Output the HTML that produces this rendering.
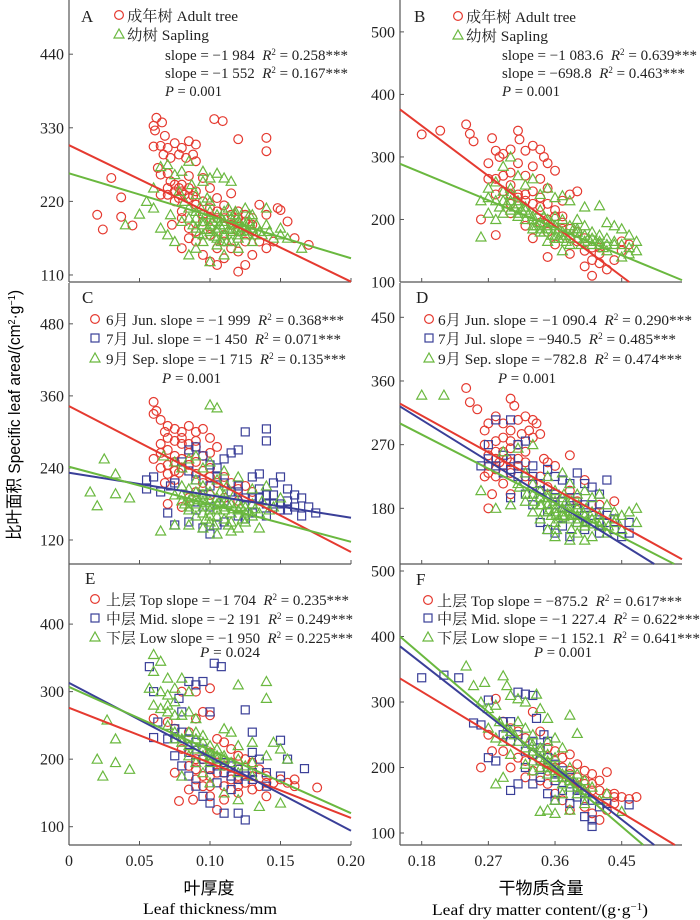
<!DOCTYPE html>
<html><head><meta charset="utf-8">
<style>
html,body{margin:0;padding:0;background:#fff;}
svg{display:block;font-family:"Liberation Serif","Noto Serif CJK SC","Noto Sans CJK SC",serif;}
</style></head>
<body>
<svg id="chart" width="700" height="920" viewBox="0 0 700 920" xmlns="http://www.w3.org/2000/svg">
<text transform="translate(20,415) rotate(-90)" text-anchor="middle" font-size="17" textLength="250" lengthAdjust="spacingAndGlyphs" style="font-family:'Liberation Sans','Noto Sans CJK SC',sans-serif">比叶面积 Specific leaf area/(cm<tspan baseline-shift="super" font-size="10">2</tspan>·g<tspan baseline-shift="super" font-size="10">−1</tspan>)</text>
<text x="209" y="894" text-anchor="middle" font-size="17" style="font-family:'Noto Sans CJK SC',sans-serif">叶厚度</text>
<text x="210" y="914" text-anchor="middle" font-size="16" textLength="134" lengthAdjust="spacingAndGlyphs">Leaf thickness/mm</text>
<text x="541" y="894" text-anchor="middle" font-size="17" style="font-family:'Noto Sans CJK SC',sans-serif">干物质含量</text>
<text x="540" y="915" text-anchor="middle" font-size="16" textLength="216" lengthAdjust="spacingAndGlyphs">Leaf dry matter content/(g·g<tspan baseline-shift="super" font-size="10">−1</tspan>)</text>
</svg>
<script>
// ---- tick labels ----
const ltTicks = [0, 0.05, 0.10, 0.15, 0.20];
const ltTickLabels = ["0", "0.05", "0.10", "0.15", "0.20"];
const ldTicks = [0.18, 0.27, 0.36, 0.45];
const ldTickLabels = ["0.18", "0.27", "0.36", "0.45"];
const yTicksA = [110, 220, 330, 440];
const yTicksB = [100, 200, 300, 400, 500];
const yTicksC = [120, 240, 360, 480];
const yTicksD = [180, 270, 360, 450];
const yTicksE = [100, 200, 300, 400];
const yTicksF = [100, 200, 300, 400, 500];

// ---- series (x, y pairs) ----
const adultA = [[0.02,200],[0.024,178],[0.03,255],[0.037,226],[0.037,197],[0.045,184],[0.062,345],[0.06,333],[0.061,326],[0.066,338],[0.068,318],[0.06,302],[0.065,303],[0.07,300],[0.075,307],[0.08,300],[0.085,310],[0.09,305],[0.103,343],[0.109,340],[0.12,313],[0.14,315],[0.14,295],[0.063,270],[0.07,240],[0.075,245],[0.08,235],[0.085,258],[0.09,280],[0.095,255],[0.1,240],[0.105,225],[0.11,214],[0.115,232],[0.12,205],[0.125,200],[0.13,195],[0.135,215],[0.14,200],[0.148,210],[0.15,207],[0.155,190],[0.16,165],[0.17,155],[0.073,185],[0.08,150],[0.085,165],[0.09,175],[0.095,140],[0.1,130],[0.105,125],[0.11,135],[0.12,115],[0.125,125],[0.13,140],[0.14,150],[0.145,160],[0.1,180],[0.105,195],[0.11,170],[0.115,185],[0.12,175],[0.095,200],[0.09,215],[0.085,225],[0.13,175],[0.135,160],[0.08,205],[0.075,220],[0.065,230],[0.072,250],[0.078,240],[0.082,230],[0.07,230],[0.075,235],[0.08,245],[0.085,240],[0.09,235],[0.078,225],[0.088,228],[0.095,220],[0.1,210],[0.105,205],[0.11,195],[0.115,200],[0.12,195],[0.125,190],[0.13,185],[0.095,190],[0.1,170],[0.11,160],[0.115,150],[0.12,145],[0.125,160],[0.105,150],[0.09,160],[0.085,180],[0.08,195],[0.067,290],[0.072,285],[0.078,290],[0.083,285],[0.088,290],[0.065,260],[0.07,262]];
const saplingA = [[0.04,185],[0.05,201],[0.055,220],[0.06,240],[0.065,272],[0.07,275],[0.075,260],[0.08,265],[0.085,280],[0.095,265],[0.1,255],[0.105,262],[0.11,255],[0.115,250],[0.125,210],[0.14,210],[0.13,200],[0.15,170],[0.155,165],[0.165,150],[0.13,160],[0.12,150],[0.11,140],[0.1,130],[0.085,140],[0.075,160],[0.07,170],[0.072,200],[0.08,190],[0.09,195],[0.095,185],[0.1,175],[0.105,180],[0.11,190],[0.115,175],[0.12,185],[0.085,210],[0.09,230],[0.1,220],[0.105,200],[0.11,205],[0.12,170],[0.125,180],[0.135,175],[0.14,185],[0.095,160],[0.09,150],[0.105,155],[0.115,160],[0.06,210],[0.065,180],[0.09,180],[0.095,190],[0.1,185],[0.105,175],[0.11,185],[0.115,195],[0.12,190],[0.125,185],[0.13,180],[0.1,195],[0.095,170],[0.105,165],[0.11,170],[0.115,180],[0.12,165],[0.125,170],[0.09,205],[0.1,205],[0.108,195],[0.118,200],[0.128,190],[0.132,170],[0.098,178],[0.112,160],[0.122,175],[0.085,195],[0.088,185],[0.092,172],[0.097,200],[0.102,190],[0.107,185],[0.113,178],[0.117,188],[0.123,182],[0.127,176],[0.133,185],[0.137,170],[0.142,175],[0.103,168],[0.108,160],[0.093,212],[0.098,225],[0.113,210],[0.118,205],[0.128,200],[0.082,220],[0.078,235],[0.087,245],[0.095,250],[0.145,165],[0.15,180]];
const adultB = [[0.18,336],[0.205,342],[0.24,352],[0.245,337],[0.25,325],[0.27,290],[0.275,330],[0.28,310],[0.285,300],[0.29,305],[0.3,312],[0.31,342],[0.312,328],[0.32,310],[0.33,318],[0.34,312],[0.345,300],[0.35,290],[0.36,278],[0.33,285],[0.31,290],[0.29,270],[0.27,265],[0.26,200],[0.28,240],[0.3,255],[0.31,240],[0.32,230],[0.33,245],[0.34,235],[0.35,225],[0.36,215],[0.37,205],[0.38,240],[0.39,245],[0.28,175],[0.3,210],[0.32,190],[0.33,170],[0.34,195],[0.35,180],[0.36,160],[0.37,185],[0.38,170],[0.39,165],[0.4,150],[0.41,135],[0.42,130],[0.43,120],[0.41,110],[0.4,125],[0.44,135],[0.45,150],[0.45,165],[0.46,160],[0.35,140],[0.38,145],[0.42,155],[0.37,230],[0.35,250],[0.3,225],[0.29,245],[0.3,240],[0.31,235],[0.32,240],[0.33,225],[0.34,220],[0.35,200],[0.36,205],[0.37,195],[0.38,185],[0.39,180],[0.4,170],[0.41,155],[0.42,145],[0.28,265],[0.3,275],[0.32,270],[0.34,265]];
const saplingB = [[0.26,172],[0.26,230],[0.27,250],[0.27,210],[0.28,260],[0.29,285],[0.3,300],[0.31,270],[0.32,255],[0.33,265],[0.34,240],[0.35,250],[0.36,235],[0.37,238],[0.38,230],[0.4,220],[0.42,222],[0.43,195],[0.44,190],[0.45,185],[0.46,175],[0.47,165],[0.47,150],[0.46,145],[0.45,140],[0.43,150],[0.42,160],[0.41,170],[0.4,190],[0.39,180],[0.38,160],[0.37,150],[0.36,175],[0.35,190],[0.34,180],[0.33,200],[0.32,215],[0.31,225],[0.3,230],[0.29,210],[0.28,200],[0.33,185],[0.35,165],[0.37,200],[0.39,200],[0.36,205],[0.34,215],[0.31,205],[0.4,165],[0.44,160],[0.3,215],[0.31,210],[0.32,200],[0.33,205],[0.34,195],[0.35,185],[0.36,190],[0.37,180],[0.38,175],[0.39,170],[0.4,165],[0.41,160],[0.42,165],[0.43,160],[0.32,220],[0.335,190],[0.345,205],[0.355,175],[0.365,170],[0.375,165],[0.385,185],[0.395,160],[0.31,230],[0.3,240],[0.29,230],[0.28,230],[0.285,220],[0.295,225],[0.305,220],[0.315,215],[0.325,210],[0.33,190],[0.34,185],[0.345,180],[0.35,200],[0.355,195],[0.36,170],[0.365,185],[0.37,170],[0.375,175],[0.38,190],[0.39,185],[0.4,175],[0.405,170],[0.41,180],[0.415,165],[0.42,175],[0.425,155],[0.43,170],[0.44,165],[0.45,160],[0.46,155],[0.3,250],[0.29,245],[0.27,235]];
const junC = [[0.06,350],[0.062,335],[0.065,320],[0.06,330],[0.068,300],[0.07,310],[0.075,305],[0.08,300],[0.085,310],[0.09,300],[0.095,305],[0.1,290],[0.105,275],[0.065,280],[0.07,270],[0.075,260],[0.08,280],[0.085,265],[0.09,275],[0.095,260],[0.1,265],[0.06,255],[0.065,240],[0.07,245],[0.075,235],[0.08,240],[0.085,245],[0.09,230],[0.095,235],[0.1,225],[0.105,215],[0.11,225],[0.115,215],[0.12,205],[0.125,210],[0.13,200],[0.07,180],[0.08,175],[0.085,190],[0.09,200],[0.1,195],[0.11,190],[0.12,185],[0.095,215],[0.075,220],[0.068,215],[0.07,290],[0.075,285],[0.08,290],[0.085,280],[0.09,285],[0.065,265],[0.075,250],[0.08,255],[0.09,250],[0.1,240],[0.07,230],[0.078,232]];
const julC = [[0.055,205],[0.055,220],[0.06,225],[0.065,200],[0.07,165],[0.072,210],[0.075,215],[0.08,250],[0.085,270],[0.09,275],[0.095,260],[0.1,245],[0.105,240],[0.11,255],[0.115,265],[0.12,270],[0.125,300],[0.13,225],[0.135,230],[0.14,305],[0.14,285],[0.145,215],[0.15,225],[0.155,205],[0.16,195],[0.165,190],[0.17,175],[0.175,165],[0.165,160],[0.155,170],[0.15,180],[0.14,180],[0.13,190],[0.12,200],[0.11,185],[0.1,175],[0.09,170],[0.085,150],[0.095,140],[0.1,130],[0.105,145],[0.11,150],[0.12,160],[0.125,155],[0.13,165],[0.14,160],[0.075,145],[0.145,195],[0.135,205],[0.115,200],[0.12,210],[0.125,190],[0.13,180],[0.135,190],[0.14,195],[0.145,180],[0.15,170],[0.155,185],[0.16,175],[0.095,195],[0.1,210],[0.105,225],[0.11,215],[0.09,220],[0.085,235]];
const sepC = [[0.015,200],[0.02,177],[0.025,255],[0.033,230],[0.033,197],[0.043,190],[0.067,260],[0.075,250],[0.08,240],[0.085,255],[0.09,260],[0.1,345],[0.105,340],[0.095,240],[0.1,250],[0.11,235],[0.12,225],[0.13,205],[0.14,210],[0.15,190],[0.145,175],[0.135,165],[0.125,150],[0.115,135],[0.105,130],[0.095,140],[0.085,145],[0.075,145],[0.065,135],[0.075,195],[0.08,185],[0.085,175],[0.09,200],[0.095,185],[0.1,170],[0.105,190],[0.11,175],[0.115,165],[0.12,180],[0.125,175],[0.13,160],[0.1,160],[0.09,160],[0.11,155],[0.095,210],[0.105,220],[0.085,205],[0.12,140],[0.135,140],[0.08,195],[0.085,185],[0.09,180],[0.095,175],[0.1,185],[0.105,180],[0.11,170],[0.115,180],[0.12,170],[0.09,190],[0.095,195],[0.1,200],[0.105,170],[0.11,195],[0.085,170],[0.095,165],[0.1,150],[0.105,160],[0.115,150],[0.125,165],[0.08,210],[0.09,220],[0.13,180],[0.092,187],[0.097,182],[0.102,178],[0.107,185],[0.112,182],[0.117,172],[0.122,176],[0.127,168],[0.132,172],[0.087,192],[0.082,180],[0.107,200],[0.112,210],[0.117,195],[0.097,155],[0.103,145],[0.113,145],[0.123,155],[0.137,185],[0.142,170]];
const junD = [[0.24,350],[0.245,330],[0.255,320],[0.265,290],[0.27,300],[0.28,310],[0.29,300],[0.3,335],[0.305,325],[0.31,305],[0.32,310],[0.33,305],[0.335,300],[0.34,285],[0.3,290],[0.29,280],[0.28,275],[0.265,270],[0.27,255],[0.28,250],[0.29,260],[0.3,265],[0.31,270],[0.32,260],[0.33,280],[0.345,250],[0.35,245],[0.36,240],[0.38,255],[0.27,240],[0.28,225],[0.29,215],[0.3,230],[0.31,240],[0.32,225],[0.33,215],[0.265,225],[0.275,200],[0.27,180],[0.3,200],[0.34,225],[0.35,210],[0.36,200],[0.4,220],[0.42,185],[0.44,190],[0.38,205],[0.39,190],[0.28,260],[0.285,245],[0.29,240],[0.295,250],[0.3,245],[0.31,250],[0.32,245],[0.3,275],[0.315,285],[0.325,290],[0.27,230],[0.28,235]];
const julD = [[0.26,240],[0.27,250],[0.27,270],[0.28,305],[0.3,305],[0.3,250],[0.31,270],[0.32,275],[0.33,240],[0.31,225],[0.3,195],[0.32,200],[0.34,215],[0.35,235],[0.36,225],[0.37,220],[0.38,215],[0.39,230],[0.4,215],[0.41,210],[0.42,200],[0.43,220],[0.39,195],[0.38,180],[0.37,170],[0.36,185],[0.35,175],[0.34,160],[0.35,150],[0.36,145],[0.37,155],[0.38,140],[0.4,150],[0.42,160],[0.44,150],[0.45,140],[0.46,145],[0.46,160],[0.43,170],[0.41,185],[0.4,170],[0.33,185],[0.34,195],[0.36,200],[0.39,160],[0.42,145],[0.29,230],[0.3,235],[0.31,240],[0.32,230],[0.33,225],[0.34,205],[0.35,200],[0.36,195],[0.37,190],[0.38,195],[0.39,180],[0.4,185],[0.41,170],[0.42,175],[0.43,160],[0.44,165],[0.28,240],[0.29,255]];
const sepD = [[0.18,340],[0.21,340],[0.26,205],[0.28,180],[0.29,260],[0.31,265],[0.33,270],[0.31,215],[0.3,185],[0.32,230],[0.33,215],[0.34,205],[0.35,225],[0.36,205],[0.37,230],[0.38,215],[0.39,200],[0.4,205],[0.41,195],[0.42,200],[0.43,185],[0.44,175],[0.45,170],[0.46,175],[0.47,180],[0.47,160],[0.45,150],[0.43,145],[0.41,140],[0.4,135],[0.38,135],[0.36,140],[0.35,150],[0.34,165],[0.33,175],[0.34,185],[0.35,195],[0.36,175],[0.37,170],[0.38,180],[0.39,170],[0.4,160],[0.41,165],[0.42,155],[0.44,160],[0.37,195],[0.36,160],[0.39,145],[0.32,190],[0.34,195],[0.35,185],[0.36,190],[0.37,180],[0.38,175],[0.39,180],[0.4,170],[0.41,175],[0.42,170],[0.35,200],[0.36,180],[0.37,175],[0.38,165],[0.39,160],[0.4,155],[0.33,200],[0.345,175],[0.355,170],[0.365,165],[0.375,190],[0.385,170],[0.352,178],[0.362,172],[0.372,168],[0.382,172],[0.392,165],[0.402,162],[0.412,158],[0.422,162],[0.432,155],[0.442,165],[0.342,185],[0.332,190],[0.322,200],[0.312,210],[0.372,200],[0.382,190],[0.392,185],[0.402,180],[0.362,150],[0.382,150]];
const topE = [[0.06,260],[0.07,255],[0.075,245],[0.08,300],[0.09,300],[0.1,305],[0.1,265],[0.095,270],[0.09,260],[0.085,240],[0.08,215],[0.075,180],[0.078,138],[0.085,155],[0.088,140],[0.09,185],[0.095,200],[0.1,210],[0.105,230],[0.11,225],[0.115,215],[0.12,205],[0.125,200],[0.13,195],[0.135,185],[0.14,175],[0.145,165],[0.15,170],[0.155,165],[0.16,170],[0.16,160],[0.176,158],[0.14,145],[0.13,155],[0.12,160],[0.11,140],[0.105,125],[0.1,145],[0.095,160],[0.1,175],[0.11,180],[0.12,185],[0.105,195],[0.115,170],[0.125,165],[0.135,160],[0.09,200],[0.085,190],[0.1,185],[0.105,180],[0.11,190],[0.115,195],[0.12,175],[0.13,175],[0.14,165],[0.095,175],[0.09,170],[0.1,160],[0.11,160],[0.12,150]];
const midE = [[0.057,337],[0.06,300],[0.06,232],[0.063,255],[0.07,230],[0.075,245],[0.078,290],[0.08,270],[0.085,315],[0.09,310],[0.095,315],[0.1,270],[0.103,342],[0.108,337],[0.125,273],[0.13,240],[0.13,210],[0.135,200],[0.14,180],[0.15,228],[0.155,200],[0.167,186],[0.15,175],[0.14,160],[0.13,170],[0.12,120],[0.125,110],[0.11,120],[0.1,135],[0.095,145],[0.09,160],[0.085,175],[0.08,190],[0.085,210],[0.09,225],[0.095,215],[0.1,200],[0.105,190],[0.11,180],[0.115,175],[0.12,185],[0.105,165],[0.115,155],[0.075,205],[0.09,195],[0.095,200],[0.1,185],[0.11,195],[0.115,190],[0.12,170],[0.125,175],[0.13,180],[0.085,230],[0.08,240],[0.075,230]];
const lowE = [[0.02,200],[0.024,175],[0.027,258],[0.033,230],[0.033,195],[0.043,185],[0.057,305],[0.06,330],[0.06,355],[0.065,345],[0.07,320],[0.065,300],[0.07,295],[0.075,305],[0.08,320],[0.085,300],[0.06,280],[0.065,275],[0.07,280],[0.075,285],[0.08,265],[0.085,270],[0.09,260],[0.07,250],[0.075,240],[0.08,230],[0.09,240],[0.095,235],[0.1,220],[0.11,245],[0.115,240],[0.12,310],[0.14,315],[0.14,290],[0.12,220],[0.13,225],[0.14,205],[0.145,225],[0.15,215],[0.155,200],[0.15,135],[0.135,130],[0.12,140],[0.11,150],[0.1,165],[0.095,180],[0.09,195],[0.085,205],[0.08,175],[0.1,200],[0.105,205],[0.11,190],[0.12,180],[0.13,175],[0.09,215],[0.095,205],[0.1,195],[0.105,200],[0.11,205],[0.1,210],[0.095,225],[0.085,220],[0.08,225],[0.075,230],[0.085,240],[0.09,230],[0.095,215],[0.1,205],[0.105,215],[0.11,200],[0.115,195],[0.12,200],[0.125,190],[0.13,195],[0.07,270],[0.075,265]];
const topF = [[0.26,200],[0.27,250],[0.275,225],[0.28,305],[0.29,270],[0.3,260],[0.31,255],[0.32,245],[0.33,285],[0.34,255],[0.35,230],[0.36,225],[0.37,215],[0.38,220],[0.39,205],[0.4,195],[0.41,190],[0.42,180],[0.43,193],[0.44,160],[0.45,155],[0.46,152],[0.47,155],[0.44,145],[0.43,135],[0.42,120],[0.41,130],[0.4,140],[0.38,135],[0.37,150],[0.36,160],[0.35,175],[0.34,180],[0.33,195],[0.32,210],[0.31,215],[0.3,200],[0.29,225],[0.35,195],[0.37,185],[0.39,170],[0.41,165],[0.38,190],[0.36,200],[0.34,210],[0.32,185],[0.4,175],[0.36,210],[0.37,200],[0.38,195],[0.39,185],[0.4,180],[0.41,175],[0.42,165],[0.43,160],[0.44,155],[0.35,215]];
const midF = [[0.18,337],[0.21,341],[0.23,337],[0.25,268],[0.26,265],[0.27,303],[0.27,215],[0.28,210],[0.29,250],[0.3,270],[0.31,315],[0.32,312],[0.33,310],[0.335,275],[0.345,250],[0.34,230],[0.33,240],[0.32,200],[0.31,175],[0.3,165],[0.33,175],[0.35,215],[0.36,205],[0.37,195],[0.38,185],[0.39,170],[0.4,160],[0.41,150],[0.42,140],[0.41,120],[0.41,110],[0.4,125],[0.43,145],[0.46,143],[0.38,145],[0.36,150],[0.35,160],[0.34,185],[0.36,180],[0.37,165],[0.39,155],[0.32,225],[0.3,240],[0.33,220],[0.34,210],[0.35,200],[0.36,190],[0.37,185],[0.38,175],[0.39,165],[0.4,150],[0.35,240],[0.31,250],[0.29,270]];
const lowF = [[0.24,355],[0.25,325],[0.265,330],[0.26,300],[0.27,290],[0.28,295],[0.29,340],[0.295,325],[0.3,310],[0.31,305],[0.32,300],[0.335,312],[0.34,290],[0.35,275],[0.38,280],[0.39,252],[0.37,230],[0.36,245],[0.35,240],[0.34,230],[0.33,250],[0.32,260],[0.31,270],[0.3,255],[0.29,240],[0.28,245],[0.27,260],[0.3,220],[0.29,185],[0.28,175],[0.32,205],[0.33,195],[0.34,200],[0.35,210],[0.36,195],[0.37,185],[0.38,200],[0.39,190],[0.4,180],[0.41,170],[0.39,160],[0.37,160],[0.36,150],[0.35,135],[0.34,133],[0.36,130],[0.38,135],[0.4,145],[0.45,133],[0.42,150],[0.43,160],[0.32,230],[0.33,225],[0.34,215],[0.35,205],[0.36,200],[0.37,190],[0.38,180],[0.39,175],[0.35,190],[0.36,185],[0.37,175],[0.34,200],[0.33,210],[0.38,170],[0.4,165],[0.36,215],[0.31,240],[0.33,235],[0.34,225],[0.35,220],[0.355,200],[0.365,195],[0.375,185],[0.385,180],[0.395,170],[0.405,160],[0.345,210],[0.325,240],[0.305,250],[0.295,260],[0.285,270]];

// ---- fitted lines: [x1, y1, x2, y2] ----
const fitA = {adult:[0,304,0.2,100], sapling:[0,262,0.2,135]};
const fitB = {adult:[0.1507,376,0.4601,100], sapling:[0.1507,289,0.5314,103]};
const fitC = {jun:[0,343,0.2,100], jul:[0,232,0.2,157], sep:[0,242,0.2,117]};
const fitD = {jun:[0.1507,328,0.5314,108], jul:[0.1507,324,0.4939,101.3], sep:[0.1507,300,0.5209,101.3]};
const fitE = {top:[0,276,0.2,113], mid:[0,313,0.2,94], low:[0,307,0.2,120]};
const fitF = {top:[0.1507,336,0.5218,81.7], mid:[0.1507,385,0.4939,81.7], low:[0.1507,400,0.4791,81.7]};

const RED="#e53a30", GREEN="#6ab83f", BLUE="#3a3f98";
const NS="http://www.w3.org/2000/svg";
const svg=document.getElementById('chart');
function mk(tag, attrs, parent){const e=document.createElementNS(NS,tag);for(const k in attrs)e.setAttribute(k,attrs[k]);(parent||svg).appendChild(e);return e;}

const panels=[
 {id:'a',px0:69,px1:351,py0:0,py1:282,x0:0,x1:0.2,y0:99.5,y1:521,xt:ltTicks,xl:null,yt:yTicksA},
 {id:'b',px0:400,px1:682,py0:0,py1:282,x0:0.1507,x1:0.5314,y0:100,y1:551,xt:ldTicks,xl:null,yt:yTicksB},
 {id:'c',px0:69,px1:351,py0:283,py1:564,x0:0,x1:0.2,y0:80,y1:548,xt:ltTicks,xl:null,yt:yTicksC},
 {id:'d',px0:400,px1:682,py0:283,py1:564,x0:0.1507,x1:0.5314,y0:101.3,y1:498.5,xt:ldTicks,xl:null,yt:yTicksD},
 {id:'e',px0:69,px1:351,py0:564,py1:845,x0:0,x1:0.2,y0:72.9,y1:489,xt:ltTicks,xl:ltTickLabels,yt:yTicksE},
 {id:'f',px0:400,px1:682,py0:564,py1:845,x0:0.1507,x1:0.5314,y0:81.7,y1:510.7,xt:ldTicks,xl:ldTickLabels,yt:yTicksF}
];
function sx(p,v){return p.px0+(v-p.x0)/(p.x1-p.x0)*(p.px1-p.px0);}
function sy(p,v){return p.py1-(v-p.y0)/(p.y1-p.y0)*(p.py1-p.py0);}

function marker(g,shape,color,cx,cy){
  let el;
  if(shape==='circle'){el=mk('circle',{cx:cx,cy:cy,r:4.4,fill:'none',stroke:color,'stroke-width':1.2},g);}
  else if(shape==='square'){el=mk('rect',{x:cx-4,y:cy-4,width:8,height:8,fill:'none',stroke:color,'stroke-width':1.2},g);}
  else {el=mk('polygon',{points:`${cx},${cy-5} ${cx-5},${cy+4} ${cx+5},${cy+4}`,fill:'none',stroke:color,'stroke-width':1.2},g);}
  return el;
}

function drawAxes(p){
  const g=mk('g',{});
  
  
  const ya=mk('line',{x1:p.px0,y1:p.py0,x2:p.px0,y2:p.py1,stroke:'#555','stroke-width':1.2},g);
  
  
  const xa=mk('line',{x1:p.px0,y1:p.py1,x2:p.px1,y2:p.py1,stroke:'#555','stroke-width':1.2},g);
  
  
  p.xt.forEach((v,i)=>{
    const x=sx(p,v);
    const t=mk('line',{x1:x,y1:p.py1,x2:x,y2:p.py1-4,stroke:'#555','stroke-width':1},g);
    
    
    if(p.xl){
      const l=mk('text',{x:x,y:866,'text-anchor':'middle','font-size':16,fill:'#222'},g);
      l.textContent=p.xl[i];
      
      
    }
  });
  p.yt.forEach(v=>{
    const y=sy(p,v);
    const t=mk('line',{x1:p.px0,y1:y,x2:p.px0+4,y2:y,stroke:'#555','stroke-width':1},g);
    
    
    const l=mk('text',{x:p.px0-5,y:y+5.5,'text-anchor':'end','font-size':16,fill:'#222'},g);
    l.textContent=String(v);
    
    
  });
}
function drawSeries(p,data,shape,color,name){
  const g=mk('g',{});
  
  
  data.forEach(d=>{
    const m=marker(g,shape,color,sx(p,d[0]),sy(p,d[1]));
    
    
  });
}
function drawFit(p,f,color,name){
  const l=mk('line',{x1:sx(p,f[0]),y1:sy(p,f[1]),x2:sx(p,f[2]),y2:sy(p,f[3]),stroke:color,'stroke-width':2});
  
  
}
function txt(x,y,html,w,name,size){
  const t=mk('text',{x:x,y:y,'font-size':size||15,fill:'#222'});
  t.innerHTML=html;
  if(w){t.setAttribute('textLength',w);t.setAttribute('lengthAdjust','spacingAndGlyphs');}
  
  
  return t;
}
function legMark(shape,color,cx,cy,name){
  const m=marker(svg,shape,color,cx,cy);
  
  
}
const SP='\u00a0\u00a0';
const R2=SP+'<tspan font-style="italic">R</tspan><tspan baseline-shift="super" font-size="9">2</tspan>';

panels.forEach(drawAxes);
const [pA,pB,pC,pD,pE,pF]=panels;

drawSeries(pA,adultA,'circle',RED,'adult-tree-points-a');
drawSeries(pA,saplingA,'triangle',GREEN,'sapling-points-a');
drawFit(pA,fitA.adult,RED,'adult-fit-line-a');
drawFit(pA,fitA.sapling,GREEN,'sapling-fit-line-a');

drawSeries(pB,adultB,'circle',RED,'adult-tree-points-b');
drawSeries(pB,saplingB,'triangle',GREEN,'sapling-points-b');
drawFit(pB,fitB.adult,RED,'adult-fit-line-b');
drawFit(pB,fitB.sapling,GREEN,'sapling-fit-line-b');

drawSeries(pC,junC,'circle',RED,'june-points-c');
drawSeries(pC,julC,'square',BLUE,'july-points-c');
drawSeries(pC,sepC,'triangle',GREEN,'september-points-c');
drawFit(pC,fitC.jun,RED,'june-fit-line-c');
drawFit(pC,fitC.jul,BLUE,'july-fit-line-c');
drawFit(pC,fitC.sep,GREEN,'september-fit-line-c');

drawSeries(pD,junD,'circle',RED,'june-points-d');
drawSeries(pD,julD,'square',BLUE,'july-points-d');
drawSeries(pD,sepD,'triangle',GREEN,'september-points-d');
drawFit(pD,fitD.jun,RED,'june-fit-line-d');
drawFit(pD,fitD.jul,BLUE,'july-fit-line-d');
drawFit(pD,fitD.sep,GREEN,'september-fit-line-d');

drawSeries(pE,topE,'circle',RED,'top-layer-points-e');
drawSeries(pE,midE,'square',BLUE,'mid-layer-points-e');
drawSeries(pE,lowE,'triangle',GREEN,'low-layer-points-e');
drawFit(pE,fitE.top,RED,'top-fit-line-e');
drawFit(pE,fitE.mid,BLUE,'mid-fit-line-e');
drawFit(pE,fitE.low,GREEN,'low-fit-line-e');

drawSeries(pF,topF,'circle',RED,'top-layer-points-f');
drawSeries(pF,midF,'square',BLUE,'mid-layer-points-f');
drawSeries(pF,lowF,'triangle',GREEN,'low-layer-points-f');
drawFit(pF,fitF.top,RED,'top-fit-line-f');
drawFit(pF,fitF.mid,BLUE,'mid-fit-line-f');
drawFit(pF,fitF.low,GREEN,'low-fit-line-f');

// ---- panel letters & legends ----
txt(81,22,'A',null,'panel-label-a',17);
legMark('circle',RED,119,15,'legend-marker-adult-a');
txt(127,21,'成年树 Adult tree',111,'legend-adult-a');
legMark('triangle',GREEN,119,34,'legend-marker-sapling-a');
txt(127,40,'幼树 Sapling',82,'legend-sapling-a');
txt(165,60,'slope = −1 984'+R2+' = 0.258***',183,'stats-adult-a');
txt(165,78,'slope = −1 552'+R2+' = 0.167***',183,'stats-sapling-a');
txt(165,96,'<tspan font-style="italic">P</tspan> = 0.001',57,'p-value-a');

txt(414,22,'B',null,'panel-label-b',17);
legMark('circle',RED,458,16,'legend-marker-adult-b');
txt(466,22,'成年树 Adult tree',110,'legend-adult-b');
legMark('triangle',GREEN,458,35,'legend-marker-sapling-b');
txt(466,41,'幼树 Sapling',82,'legend-sapling-b');
txt(502,60,'slope = −1 083.6'+R2+' = 0.639***',195,'stats-adult-b');
txt(502,78,'slope = −698.8'+R2+' = 0.463***',183,'stats-sapling-b');
txt(502,96,'<tspan font-style="italic">P</tspan> = 0.001',58,'p-value-b');

txt(82,303,'C',null,'panel-label-c',17);
legMark('circle',RED,95,319,'legend-marker-june-c');
txt(106,325,'6月 Jun. slope = −1 999'+R2+' = 0.368***',238,'legend-june-c');
legMark('square',BLUE,95,338,'legend-marker-july-c');
txt(106,344,'7月 Jul. slope = −1 450'+R2+' = 0.071***',235,'legend-july-c');
legMark('triangle',GREEN,95,358,'legend-marker-september-c');
txt(106,364,'9月 Sep. slope = −1 715'+R2+' = 0.135***',240,'legend-september-c');
txt(162,383,'<tspan font-style="italic">P</tspan> = 0.001',59,'p-value-c');

txt(416,303,'D',null,'panel-label-d',17);
legMark('circle',RED,429,319,'legend-marker-june-d');
txt(438,325,'6月 Jun. slope = −1 090.4'+R2+' = 0.290***',254,'legend-june-d');
legMark('square',BLUE,429,338,'legend-marker-july-d');
txt(438,344,'7月 Jul. slope = −940.5'+R2+' = 0.485***',238,'legend-july-d');
legMark('triangle',GREEN,429,358,'legend-marker-september-d');
txt(438,364,'9月 Sep. slope = −782.8'+R2+' = 0.474***',244,'legend-september-d');
txt(498,383,'<tspan font-style="italic">P</tspan> = 0.001',58,'p-value-d');

txt(85,584,'E',null,'panel-label-e',17);
legMark('circle',RED,95,599,'legend-marker-top-e');
txt(106,605,'上层 Top slope = −1 704'+R2+' = 0.235***',243,'legend-top-e');
legMark('square',BLUE,95,618,'legend-marker-mid-e');
txt(106,624,'中层 Mid. slope = −2 191'+R2+' = 0.249***',247,'legend-mid-e');
legMark('triangle',GREEN,95,637,'legend-marker-low-e');
txt(106,643,'下层 Low slope = −1 950'+R2+' = 0.225***',247,'legend-low-e');
txt(200,657,'<tspan font-style="italic">P</tspan> = 0.024',60,'p-value-e');

txt(416,585,'F',null,'panel-label-f',17);
legMark('circle',RED,428,600,'legend-marker-top-f');
txt(437,606,'上层 Top slope = −875.2'+R2+' = 0.617***',245,'legend-top-f');
legMark('square',BLUE,428,618,'legend-marker-mid-f');
txt(437,624,'中层 Mid. slope = −1 227.4'+R2+' = 0.622***',263,'legend-mid-f');
legMark('triangle',GREEN,428,637,'legend-marker-low-f');
txt(437,643,'下层 Low slope = −1 152.1'+R2+' = 0.641***',263,'legend-low-f');
txt(534,657,'<tspan font-style="italic">P</tspan> = 0.001',58,'p-value-f');
</script>
</body></html>
